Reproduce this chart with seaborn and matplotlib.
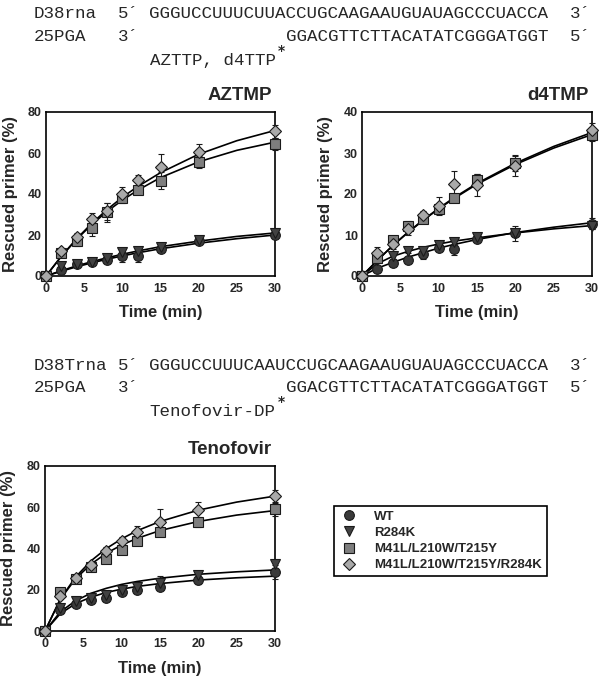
import matplotlib
matplotlib.use('Agg')
import pandas as pd
import matplotlib.pyplot as plt
import seaborn as sns

# sampling times of the measured points (min)
times = [0, 2, 4, 6, 8, 10, 12, 15, 20, 30]
curve_times = [0, 2, 4, 6, 8, 10, 12, 15, 20, 25, 30]

enzymes = ['WT', 'R284K', 'M41L/L210W/T215Y', 'M41L/L210W/T215Y/R284K']
markers = ['o', 'v', 's', 'D']
face_colors = ['#3a3a3a', '#424242', '#7e7e7e', '#a9a9a9']

# ---- AZTMP ----
azt_wt = [0, 3, 6, 7, 8, 10, 10, 13, 17, 20]
azt_wt_err = [0, 1, 1, 1, 1.5, 3, 3, 1, 1, 1]
azt_r284k = [0, 5, 6, 7, 9, 11.5, 12, 14, 17.5, 21]
azt_r284k_err = [0, 1, 1, 1, 1, 1.5, 1, 1, 1, 1]
azt_tams = [0, 11, 17, 23.5, 31, 38, 42, 46.5, 55.5, 64.5]
azt_tams_err = [0, 1, 2.5, 4, 4.5, 2.5, 2, 4, 3, 3]
azt_tams_r284k = [0, 12, 19, 28, 31.5, 40, 47, 53, 60.5, 70.5]
azt_tams_r284k_err = [0, 1, 2, 2.5, 4, 3.5, 2.5, 6.5, 4, 3]
azt_fit_wt = [0, 2.3, 4.5, 6.4, 8.2, 9.8, 11.3, 13.3, 16, 18.2, 20]
azt_fit_r284k = [0, 2.6, 4.9, 7, 8.9, 10.6, 12.2, 14.3, 17, 19.3, 21]
azt_fit_tams = [0, 9.5, 17.9, 25.1, 31.5, 37, 41.8, 48, 55.7, 61.3, 65.3]
azt_fit_tams_r284k = [0, 9.6, 18.1, 25.7, 32.4, 38.4, 43.6, 50.4, 59.4, 66, 71]

# ---- d4TMP ----
d4t_wt = [0, 1.8, 3.2, 3.9, 5.4, 6.9, 6.5, 9.0, 10.4, 12.8]
d4t_wt_err = [0, 0.3, 0.5, 0.5, 1.3, 0.6, 1.3, 0.5, 1.8, 1.3]
d4t_r284k = [0, 4.0, 4.8, 6.0, 6.2, 7.5, 8.2, 9.5, 10.5, 12.3]
d4t_r284k_err = [0, 0.5, 0.6, 0.5, 0.5, 0.5, 0.5, 0.5, 0.6, 0.8]
d4t_tams = [0, 4.5, 8.8, 12.3, 14.0, 16.3, 19.0, 23.5, 27.5, 34.5]
d4t_tams_err = [0, 1, 1, 1, 1, 1.2, 0.8, 1.5, 2, 1.5]
d4t_tams_r284k = [0, 5.5, 7.8, 11.5, 14.8, 17.0, 22.5, 22.3, 26.8, 35.5]
d4t_tams_r284k_err = [0, 1.5, 1.2, 1.5, 1, 2.2, 3.2, 2.7, 2.5, 1.8]
d4t_fit_wt = [0, 1.9, 3.3, 4.6, 5.7, 6.8, 7.7, 8.9, 10.6, 11.9, 13.0]
d4t_fit_r284k = [0, 3.0, 4.8, 6.0, 7.0, 7.8, 8.5, 9.3, 10.5, 11.5, 12.3]
d4t_fit_tams = [0, 3.8, 7.4, 10.6, 13.6, 16.4, 18.9, 22.4, 27.2, 31.2, 34.5]
d4t_fit_tams_r284k = [0, 3.8, 7.4, 10.7, 13.7, 16.5, 19.1, 22.6, 27.5, 31.6, 35]

# ---- Tenofovir ----
tfv_wt = [0, 10, 13, 15, 16, 19, 20, 21.5, 24.5, 28.5]
tfv_wt_err = [0, 1.5, 1.5, 1.5, 1.5, 1, 1, 1.5, 1.5, 3.5]
tfv_r284k = [0, 11, 14.5, 16, 17.5, 20, 21.5, 23.5, 27, 32.5]
tfv_r284k_err = [0, 1.5, 2, 2.5, 1, 1, 1, 3, 2, 2]
tfv_tams = [0, 19, 25, 31, 35, 39.5, 43.5, 48, 53, 59]
tfv_tams_err = [0, 1, 1, 1, 1, 1, 1, 1.5, 2.5, 3]
tfv_tams_r284k = [0, 17, 25.5, 32, 39, 43.5, 48, 53, 58.5, 65.5]
tfv_tams_r284k_err = [0, 1.5, 1.5, 1.5, 1.5, 2, 3, 6, 4, 3]
tfv_fit_wt = [0, 8.4, 13.3, 16.4, 18.7, 20.3, 21.6, 23, 24.7, 25.8, 26.6]
tfv_fit_r284k = [0, 9.3, 14.7, 18.3, 20.7, 22.6, 24, 25.6, 27.5, 28.7, 29.6]
tfv_fit_tams = [0, 15.4, 25.4, 32.4, 37.7, 41.7, 44.9, 48.7, 53.1, 56.2, 58.4]
tfv_fit_tams_r284k = [0, 15.5, 26.2, 34, 40, 44.7, 48.6, 53.1, 58.6, 62.5, 65.4]

panels = [
    ('AZTMP', [azt_wt, azt_r284k, azt_tams, azt_tams_r284k],
     [azt_wt_err, azt_r284k_err, azt_tams_err, azt_tams_r284k_err],
     [azt_fit_wt, azt_fit_r284k, azt_fit_tams, azt_fit_tams_r284k], 80, 20),
    ('d4TMP', [d4t_wt, d4t_r284k, d4t_tams, d4t_tams_r284k],
     [d4t_wt_err, d4t_r284k_err, d4t_tams_err, d4t_tams_r284k_err],
     [d4t_fit_wt, d4t_fit_r284k, d4t_fit_tams, d4t_fit_tams_r284k], 40, 10),
    ('Tenofovir', [tfv_wt, tfv_r284k, tfv_tams, tfv_tams_r284k],
     [tfv_wt_err, tfv_r284k_err, tfv_tams_err, tfv_tams_r284k_err],
     [tfv_fit_wt, tfv_fit_r284k, tfv_fit_tams, tfv_fit_tams_r284k], 80, 20),
]

# template / primer text blocks
templates = ['D38rna', 'D38Trna']
template_seqs = ['GGGUCCUUUCUUACCUGCAAGAAUGUAUAGCCCUACCA',
                 'GGGUCCUUUCAAUCCUGCAAGAAUGUAUAGCCCUACCA']
primer = '25PGA'
primer_seq = 'GGACGTTCTTACATATCGGGATGGT'
substrates = ['AZTTP, d4TTP', 'Tenofovir-DP']

sns.set_style('white')
plt.rcParams['font.family'] = ['Liberation Sans', 'DejaVu Sans']
plt.rcParams['font.weight'] = 'bold'

W, H = 600, 679
fig = plt.figure(figsize=(6, 6.79), dpi=100)

# axes boxes in pixels: left, top, right, bottom
boxes = [(46, 112, 275, 276), (362, 112, 592, 276), (45, 466, 275, 631)]

def px_axes(l, t, r, b):
    return fig.add_axes([l / W, 1 - b / H, (r - l) / W, (b - t) / H])

handles = []
for (title, means, errs, fits, ymax, ystep), box in zip(panels, boxes):
    ax = px_axes(*box)
    fdf = pd.concat([pd.DataFrame({'Time': curve_times, 'fit': f, 'enzyme': e})
                     for f, e in zip(fits, enzymes)])
    sns.lineplot(data=fdf, x='Time', y='fit', hue='enzyme', palette=['black'] * 4,
                 linewidth=1.2, legend=False, ax=ax, zorder=2)
    for i, e in enumerate(enzymes):
        h = ax.errorbar(times, means[i], yerr=errs[i], fmt=markers[i], ms=7 if markers[i] != 'D' else 6.5,
                        mfc=face_colors[i], mec='#1a1a1a', mew=0.8, ecolor='#1a1a1a',
                        elinewidth=0.8, capsize=2.5, capthick=0.8, zorder=3, clip_on=False, label=e)
        if title == 'AZTMP':
            handles.append(h[0])
    ax.set_xlim(0, 30)
    ax.set_ylim(0, ymax)
    ax.set_xticks(range(0, 31, 5))
    ax.set_yticks(range(0, ymax + 1, ystep))
    ax.tick_params(direction='in', length=4, width=1, labelsize=9, pad=5)
    ax.tick_params(axis='y', pad=3)
    for lab in ax.get_xticklabels() + ax.get_yticklabels():
        lab.set_fontweight('bold')
    for s in ax.spines.values():
        s.set_color('black')
        s.set_linewidth(1.2)
    ax.set_xlabel('Time (min)', fontsize=12, fontweight='bold', va='center')
    ax.set_ylabel('Rescued primer (%)', fontsize=12, fontweight='bold', va='center')
    ax.xaxis.set_label_coords(0.5, -0.225)
    ax.yaxis.set_label_coords(-0.157, 0.5)
    ax.text(0.985, 1.1, title, transform=ax.transAxes, ha='right', va='center',
            fontsize=13.5, fontweight='bold')

# legend box
fig.legend(handles, enzymes, loc='upper left', bbox_to_anchor=(334 / W, 1 - 506 / H),
           frameon=True, fancybox=False, edgecolor='black', framealpha=1,
           prop={'weight': 'bold', 'size': 9.5}, handletextpad=1.2, borderpad=0.35,
           labelspacing=0.3, handlelength=1.5, borderaxespad=0).get_frame().set_linewidth(1.2)

# sequence text blocks (monospace columns, ~10.5 px per character)
mono = dict(family='Liberation Mono', fontsize=12.6, fontweight='normal', va='center')
cw = 10.5
x0 = 34
for top, name, seq, sub in zip((14, 365), templates, template_seqs, substrates):
    fig.text(x0 / W, 1 - top / H, name, **mono)
    fig.text((x0 + 8 * cw) / W, 1 - top / H, '5\u00b4', **mono)
    fig.text((x0 + 11 * cw) / W, 1 - top / H, seq, **mono)
    fig.text((x0 + 51 * cw) / W, 1 - top / H, '3\u00b4', **mono)
    y2 = top + 22.5
    fig.text(x0 / W, 1 - y2 / H, primer, **mono)
    fig.text((x0 + 8 * cw) / W, 1 - y2 / H, '3\u00b4', **mono)
    fig.text((x0 + 24 * cw) / W, 1 - y2 / H, primer_seq, **mono)
    fig.text((x0 + 51 * cw) / W, 1 - y2 / H, '5\u00b4', **mono)
    y3 = top + 46.5
    fig.text((x0 + 11 * cw) / W, 1 - y3 / H, sub, **mono)
    # superscript asterisk marking the incorporated analogue
    fig.text(281.5 / W, 1 - (top + 41) / H, '*', family='DejaVu Sans', fontsize=10,
             fontweight='bold', ha='center', va='baseline')

fig.savefig('out.png', dpi=100)
